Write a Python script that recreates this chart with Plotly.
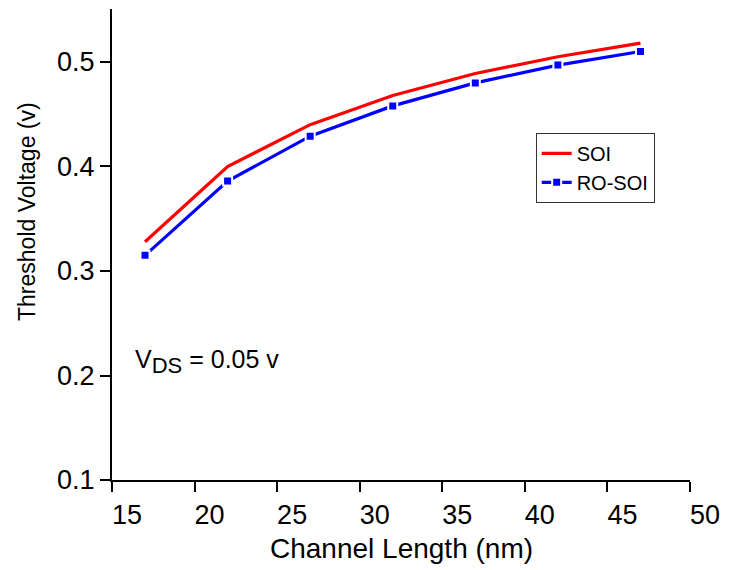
import plotly.graph_objects as go

channel_length = [17, 22, 27, 32, 37, 42, 47]
vth_soi = [0.328, 0.400, 0.440, 0.468, 0.489, 0.505, 0.518]
vth_ro_soi = [0.315, 0.386, 0.429, 0.458, 0.480, 0.497, 0.510]
x_ticks = [15, 20, 25, 30, 35, 40, 45, 50]
y_ticks = [0.1, 0.2, 0.3, 0.4, 0.5]

FONT = "Liberation Sans, Arial, sans-serif"

fig = go.Figure()
fig.add_trace(go.Scatter(
    x=channel_length, y=vth_soi, mode="lines", name="SOI",
    line=dict(color="#ff0000", width=3.2),
))
fig.add_trace(go.Scatter(
    x=channel_length, y=vth_ro_soi, mode="lines+markers", name="RO-SOI",
    line=dict(color="#0000ff", width=3.2),
    marker=dict(symbol="square", size=9, color="#0000ff",
                line=dict(color="white", width=2)),
))

fig.update_layout(
    width=729, height=570,
    margin=dict(l=112, r=33, t=9, b=90),
    plot_bgcolor="white", paper_bgcolor="white",
    font=dict(family=FONT, color="black"),
    showlegend=True,
    legend=dict(
        x=0.733, y=0.737, xanchor="left", yanchor="top",
        bordercolor="#333333", borderwidth=1, bgcolor="white",
        font=dict(size=20, family=FONT),
        tracegroupgap=0, itemwidth=30,
    ),
    xaxis=dict(
        range=[15, 50], tickvals=x_ticks, ticktext=[str(v) for v in x_ticks],
        showline=True, linecolor="black", linewidth=2,
        ticks="outside", ticklen=10, tickwidth=2, tickcolor="black",
        showgrid=False, zeroline=False,
        tickfont=dict(size=27, family=FONT),
        ticklabelshift=15,
    ),
    yaxis=dict(
        range=[0.1, 0.5507], tickvals=y_ticks, ticktext=[f"{v:.1f}" for v in y_ticks],
        showline=True, linecolor="black", linewidth=2,
        ticks="outside", ticklen=10, tickwidth=2, tickcolor="black",
        showgrid=False, zeroline=False,
        tickfont=dict(size=27, family=FONT),
    ),
    annotations=[
        dict(text="Channel Length (nm)", xref="paper", yref="paper",
             x=0.5, y=-0.145, xanchor="center", yanchor="middle",
             showarrow=False, font=dict(size=28, family=FONT)),
        dict(text="Threshold Voltage (v)", xref="paper", yref="paper",
             x=-0.148, y=0.57, xanchor="center", yanchor="middle", textangle=-90,
             showarrow=False, font=dict(size=23, family=FONT)),
        dict(text="V<sub><span style='font-size:22px'>DS</span></sub> = 0.05 v",
             xref="x", yref="y",
             x=16.3, y=0.213, xanchor="left", yanchor="middle",
             showarrow=False, font=dict(size=25, family=FONT)),
    ],
)

fig.write_html("out.html")
